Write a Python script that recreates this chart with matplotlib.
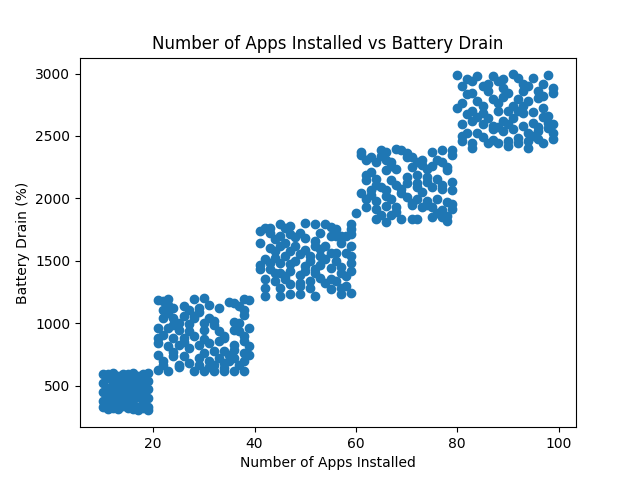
# import packages
import matplotlib.pyplot as plt

# apps 10-19
apps_1 = [10, 10, 10, 10, 10, 11, 11, 11, 11, 11, 12, 12, 12, 12, 12, 12,
          13, 13, 13, 13, 13, 14, 14, 14, 14, 14, 15, 15, 15, 15, 15, 15,
          16, 16, 16, 16, 16, 16, 17, 17, 17, 17, 17, 17, 18, 18, 18, 18,
          18, 18, 19, 19, 19, 19, 19, 19, 11, 13, 15, 17, 12, 14, 16, 18]
drain_1 = [590, 520, 450, 380, 330, 560, 480, 410, 350, 310, 580, 510, 450, 380, 320, 600,
           540, 470, 400, 360, 310, 590, 560, 500, 430, 340, 530, 450, 380, 590, 320, 480,
           500, 350, 600, 440, 310, 540, 580, 470, 330, 410, 520, 302, 590, 440, 360, 500,
           320, 560, 600, 470, 400, 330, 540, 305, 590, 580, 560, 560, 420, 390, 410, 380]

# apps 20-39
apps_2 = [21, 23, 23, 22, 28, 30, 26, 27, 29, 36, 38, 39, 38, 38, 22, 24,
          26, 28, 28, 31, 32, 24, 32, 21, 23, 25, 27, 30, 33, 36, 37, 39,
          38, 22, 24, 21, 23, 25, 29, 31, 33, 34, 36, 38, 32, 34, 35, 36,
          38, 39, 21, 24, 26, 30, 22, 25, 27, 29, 31, 32, 34, 37, 38, 21,
          23, 28, 30, 32, 34, 36, 38,
          22, 24, 25, 27, 29, 31, 33, 35, 37, 26, 28, 30, 34, 36, 22, 24,
          27, 33, 35, 37, 25, 29, 31, 21, 23, 26, 34, 36, 39, 30]
drain_2 = [1190, 1198, 1150, 1110, 1198, 1200, 1137, 1110, 1123, 1164, 1198, 1190, 1110, 1070, 1043, 1043,
           1056, 1043, 1056, 1043, 1016, 989, 989, 963, 963, 949, 936, 949, 936, 949, 936, 963,
           896, 909, 882, 842, 815, 829, 829, 842, 855, 882, 829, 855, 775, 775, 748, 788,
           762, 748, 748, 735, 735, 762, 668, 668, 681, 668, 695, 668, 681, 668, 695, 628,
           614, 614, 614, 614, 614, 614, 614,
           1180, 1120, 1000, 990, 1090, 1150, 1120, 1170, 1140, 880, 900, 870, 900, 1010, 700, 770,
           800, 720, 700, 1000, 650, 720, 650, 880, 1080, 850, 640, 720, 820, 1000]

# apps 40-59
apps_3 = [42, 43, 45, 47, 50, 52, 54, 56, 59, 59, 41, 44, 45, 47, 49, 55,
          58, 59, 57, 59, 43, 45, 46, 48, 52, 53, 49, 51, 53, 55, 56, 59,
          42, 44, 46, 45, 47, 51, 54, 56, 59, 41, 43, 45, 47, 50, 52, 55,
          57, 58, 42, 44, 46, 49, 51, 53, 55, 42, 45, 47, 49, 51, 55, 57,
          59, 45, 47, 49, 52, 57,
          41, 43, 46, 48, 50, 53, 55, 57, 58, 44, 47, 50, 52, 54, 56, 41,
          43, 48, 50, 53, 57, 59, 44, 46, 49, 52, 54, 56, 58, 42]
drain_3 = [1766, 1726, 1793, 1780, 1800, 1793, 1793, 1753, 1793, 1753, 1646, 1673, 1700, 1713, 1726, 1700,
           1700, 1713, 1646, 1619, 1606, 1619, 1646, 1619, 1619, 1592, 1552, 1539, 1539, 1566, 1566, 1539,
           1512, 1526, 1539, 1485, 1472, 1499, 1512, 1499, 1485, 1432, 1432, 1405, 1418, 1418, 1432, 1445,
           1405, 1378, 1352, 1338, 1352, 1325, 1338, 1365, 1352, 1285, 1285, 1311, 1298, 1285, 1271, 1285,
           1244, 1218, 1231, 1231, 1218, 1231,
           1740, 1760, 1760, 1690, 1680, 1720, 1770, 1700, 1560, 1580, 1580, 1590, 1660, 1620, 1700, 1470,
           1480, 1500, 1460, 1470, 1450, 1420, 1400, 1380, 1390, 1400, 1320, 1340, 1300, 1220]

# apps 60-79
apps_4 = [61, 62, 65, 66, 68, 69, 70, 75, 77, 79, 79, 64, 66, 67, 72, 73,
          76, 77, 63, 66, 68, 71, 74, 78, 62, 64, 67, 70, 72, 74, 76, 79,
          63, 65, 66, 69, 72, 73, 75, 77, 79, 62, 64, 67, 70, 72, 74, 76,
          78, 79, 62, 64, 66, 68, 73, 75, 77, 79, 64, 66, 67, 69, 71, 72,
          77,
          61, 63, 65, 67, 70, 71, 73, 75, 78, 62, 64, 68, 70, 72, 74, 77,
          61, 63, 66, 69, 71, 74, 76, 78, 60, 65, 68, 71, 75, 78]
drain_4 = [2372, 2305, 2385, 2372, 2398, 2385, 2331, 2372, 2385, 2385, 2345, 2291, 2305, 2291, 2291, 2305,
           2305, 2291, 2211, 2224, 2238, 2251, 2238, 2224, 2144, 2157, 2144, 2171, 2184, 2171, 2157, 2131,
           2064, 2090, 2064, 2077, 2090, 2050, 2090, 2077, 2064, 1997, 1983, 1997, 2010, 1997, 1983, 1997,
           1970, 1957, 1930, 1916, 1943, 1930, 1930, 1930, 1903, 1916, 1836, 1809, 1863, 1836, 1836, 1836,
           1850,
           2350, 2330, 2340, 2260, 2360, 2330, 2270, 2260, 2250, 2190, 2110, 2110, 2120, 2120, 2130, 2110,
           2040, 2030, 2020, 2040, 1950, 1950, 1880, 1860, 1880, 1870, 1890, 1960, 1850, 1820]

# apps 80-99
apps_5 = [82, 81, 83, 85, 87, 88, 91, 92, 95, 98, 97, 99, 82, 83, 86, 89,
          90, 93, 96, 99, 81, 84, 87, 89, 92, 94, 91, 92, 93, 85, 82, 88,
          97, 98, 83, 81, 85, 87, 89, 90, 95, 98, 99, 82, 84, 87, 89, 91,
          94, 96, 99, 81, 83, 86, 90, 92, 94, 96, 99, 83, 90, 94,
          80, 84, 86, 89, 93, 94, 96, 97, 80, 83, 85, 88, 90, 93, 95, 97,
          84, 86, 88, 91, 93, 96, 98, 81, 85, 87, 92, 95, 97, 88]
drain_5 = [2955, 2901, 2941, 2901, 2982, 2941, 2993, 2968, 2968, 2990, 2915, 2888, 2834, 2848, 2861, 2888,
           2848, 2861, 2861, 2848, 2767, 2781, 2794, 2808, 2794, 2781, 2741, 2700, 2687, 2687, 2674, 2700,
           2727, 2660, 2620, 2593, 2593, 2580, 2620, 2593, 2607, 2607, 2593, 2526, 2526, 2553, 2540, 2553,
           2526, 2540, 2526, 2460, 2446, 2446, 2460, 2446, 2460, 2473, 2473, 2406, 2419, 2406,
           2990, 2980, 2920, 2960, 2920, 2900, 2800, 2820, 2720, 2700, 2740, 2760, 2700, 2740, 2690, 2650,
           2650, 2640, 2570, 2640, 2580, 2570, 2560, 2500, 2490, 2470, 2480, 2500, 2440, 2440]

apps = apps_1 + apps_2 + apps_3 + apps_4 + apps_5
drain = drain_1 + drain_2 + drain_3 + drain_4 + drain_5

# plot
fig, ax = plt.subplots(1, 1)
fig.set_size_inches(6.4, 4.8)
ax.scatter(apps, drain)
ax.set_title('Number of Apps Installed vs Battery Drain')
ax.set_xlabel('Number of Apps Installed')
ax.set_ylabel('Battery Drain (%)')

plt.savefig('out.png', dpi=100)
